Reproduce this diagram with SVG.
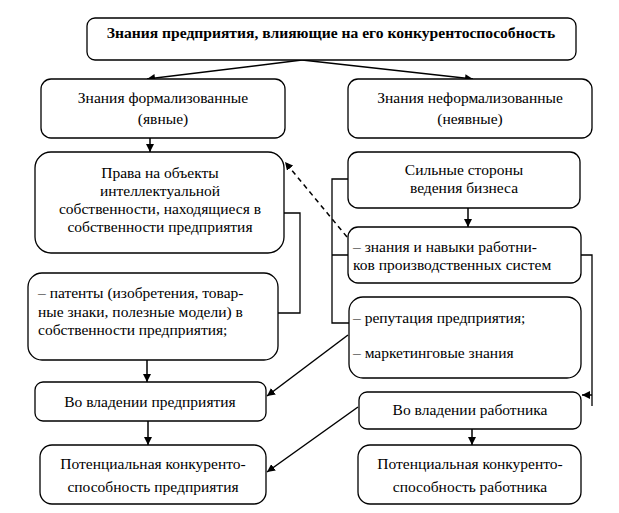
<svg xmlns="http://www.w3.org/2000/svg" width="619" height="513" viewBox="0 0 619 513">
<defs>
<marker id="ah" viewBox="0 0 10 10" refX="10" refY="5" markerWidth="8" markerHeight="8" markerUnits="userSpaceOnUse" orient="auto">
<path d="M0,0 L10,5 L0,10 z" fill="#000"/>
</marker>
<style>
.bx{fill:#fff;stroke:#000;stroke-width:1.3}
text{font-size:15.5px;fill:#000}
.c{text-anchor:middle}
.b{font-weight:bold;font-size:15.6px}
.ln{fill:none;stroke:#000;stroke-width:1.3}
.ar{fill:none;stroke:#000;stroke-width:1.5;marker-end:url(#ah)}
.ds{fill:none;stroke:#000;stroke-width:1.5;stroke-dasharray:5,4;marker-end:url(#ah)}
</style>
</defs>
<rect width="619" height="513" fill="#fff"/>
<g id="connectors">
<path class="ar" d="M302,60 L147,79"/>
<path class="ar" d="M302,60 L473,79"/>
<path class="ar" d="M150,138 L150,152"/>
<path class="ln" d="M284,213 H300 V313 H278"/>
<path class="ln" d="M348,179 H332 V323 H349 M332,255 H348"/>
<path class="ar" d="M468,208 L468,227"/>
<path class="ln" d="M581,255 H592 V406"/>
<path class="ar" d="M592,395 L582,395"/>
<path class="ds" d="M347,237 L285,162"/>
<path class="ar" d="M147,360 L147,382"/>
<path class="ar" d="M348,335 L267,396"/>
<path class="ar" d="M148,421 L148,445"/>
<path class="ar" d="M358,407 L267,472"/>
<path class="ar" d="M472,429 L472,445"/>
</g>
<g font-family="Liberation Serif, Times New Roman, serif">
<g id="title">
<rect class="bx" x="87" y="18" width="489" height="42" rx="8"/>
<text class="c b" x="331" y="38">Знания предприятия, влияющие на его конкурентоспособность</text>
</g>
<g id="formal">
<rect class="bx" x="41" y="79" width="244" height="59" rx="10"/>
<text class="c" x="163" y="103">Знания формализованные</text>
<text class="c" x="163" y="124">(явные)</text>
</g>
<g id="informal">
<rect class="bx" x="348" y="79" width="244" height="59" rx="10"/>
<text class="c" x="470" y="103">Знания неформализованные</text>
<text class="c" x="470" y="124">(неявные)</text>
</g>
<g id="rights">
<rect class="bx" x="35" y="152" width="249" height="101" rx="16"/>
<text class="c" x="160" y="178">Права на объекты</text>
<text class="c" x="160" y="196">интеллектуальной</text>
<text class="c" x="160" y="214">собственности, находящиеся в</text>
<text class="c" x="160" y="232">собственности предприятия</text>
</g>
<g id="patents">
<rect class="bx" x="28" y="273" width="250" height="87" rx="14"/>
<text x="38" y="298">– патенты (изобретения, товар-</text>
<text x="38" y="317">ные знаки, полезные модели) в</text>
<text x="38" y="335">собственности предприятия;</text>
</g>
<g id="strengths">
<rect class="bx" x="348" y="152" width="232" height="56" rx="10"/>
<text class="c" x="464" y="175">Сильные стороны</text>
<text class="c" x="464" y="193">ведения бизнеса</text>
</g>
<g id="skills">
<rect class="bx" x="348" y="227" width="233" height="56" rx="10"/>
<text x="353" y="252">– знания и навыки работни-</text>
<text x="353" y="270">ков производственных систем</text>
</g>
<g id="reputation">
<rect class="bx" x="349" y="297" width="232" height="81" rx="14"/>
<text x="353" y="323">– репутация предприятия;</text>
<text x="353" y="358">– маркетинговые знания</text>
</g>
<g id="own-enterprise">
<rect class="bx" x="35" y="382" width="231" height="39" rx="8"/>
<text class="c" x="150" y="407">Во владении предприятия</text>
</g>
<g id="own-worker">
<rect class="bx" x="359" y="392" width="222" height="37" rx="8"/>
<text class="c" x="470" y="415">Во владении  работника</text>
</g>
<g id="pot-enterprise">
<rect class="bx" x="40" y="445" width="226" height="59" rx="12"/>
<text class="c" x="153" y="469">Потенциальная конкуренто-</text>
<text class="c" x="153" y="492">способность предприятия</text>
</g>
<g id="pot-worker">
<rect class="bx" x="358" y="445" width="223" height="59" rx="12"/>
<text class="c" x="470" y="469">Потенциальная конкуренто-</text>
<text class="c" x="470" y="492">способность работника</text>
</g>
</g>
</svg>
